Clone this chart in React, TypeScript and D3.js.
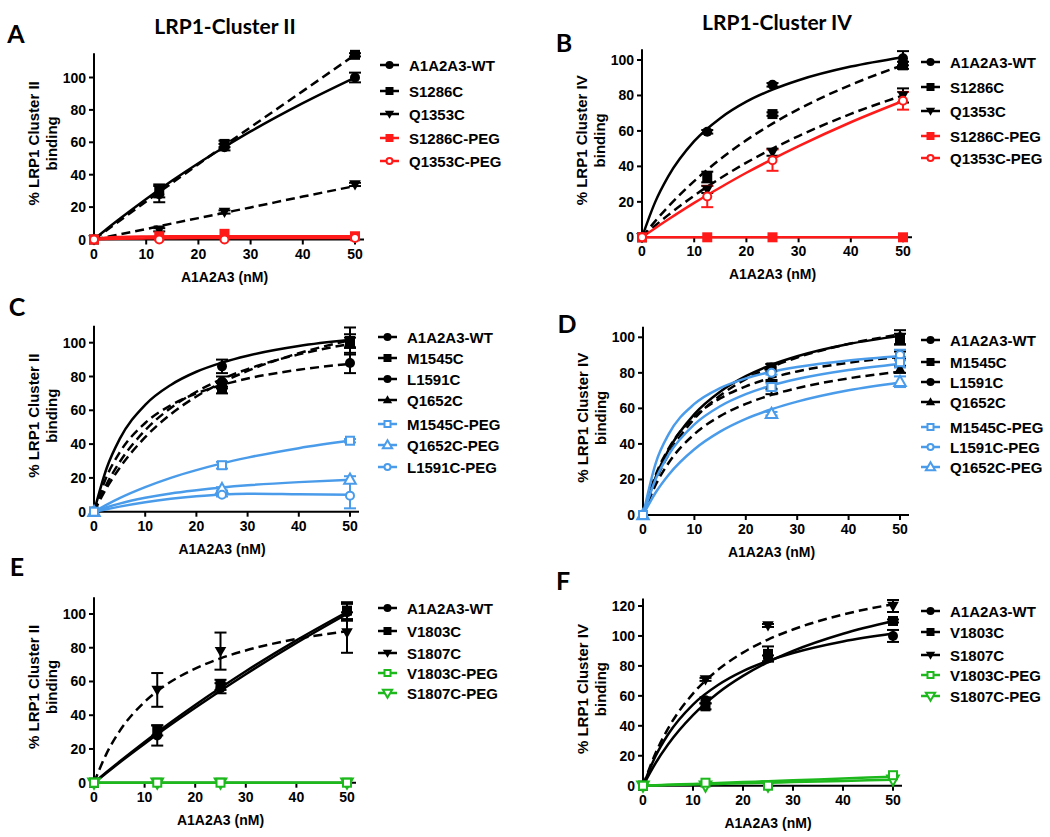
import React from 'react';
import * as d3 from 'd3';

// ---------- shared categories / ticks ----------
const concFull = [0, 12.5, 25, 50];
const concShort = [0, 25, 50];
const fitConc = [0, 2.5, 5, 10, 15, 20, 25, 30, 40, 50];
const xTicks = [0, 10, 20, 30, 40, 50];
const yTicks100 = [0, 20, 40, 60, 80, 100];
const yTicks120 = [0, 20, 40, 60, 80, 100, 120];

// ---------- Panel A (Cluster II) ----------
const A_WT = [0, 28, 57, 100];
const A_WT_err = [0, 5, 2, 3];
const A_WT_fit = [0, 6.6, 12.9, 25, 36.4, 47.1, 57.1, 66.7, 84.2, 100];
const A_S1286C = [0, 30, 59, 114];
const A_S1286C_err = [0, 4, 2, 1];
const A_S1286C_fit = [0, 5.9, 11.8, 23.5, 35, 46.5, 58, 69.3, 91.6, 114];
const A_Q1353C = [0, 6, 17, 34];
const A_Q1353C_err = [0, 1, 1, 1];
const A_Q1353C_fit = [0, 1.6, 3.2, 6.5, 9.9, 13.2, 16.5, 19.8, 26.5, 33];
const A_S1286C_PEG = [0, 2, 3.5, 2];
const A_S1286C_PEG_fit = [0, 1.2, 1.6, 1.9, 2, 2, 2, 2, 2, 2];
const A_Q1353C_PEG = [0, 0, 0, 1];
const A_Q1353C_PEG_fit = [0, 0.3, 0.5, 0.7, 0.8, 0.9, 1, 1, 1, 1];

// ---------- Panel B (Cluster IV) ----------
const B_WT = [0, 59.5, 86, 101];
const B_WT_err = [0, 1, 1, 4];
const B_WT_fit = [0, 19.7, 34.2, 54.2, 67.2, 76.5, 83.3, 88.6, 96.3, 101.6];
const B_S1286C = [0, 34, 69.5, 97];
const B_S1286C_err = [0, 3, 1, 2];
const B_S1286C_fit = [0, 9, 17.2, 31.7, 44.1, 54.8, 64.1, 72.3, 86, 97.1];
const B_Q1353C = [0, 27, 48, 80];
const B_Q1353C_err = [0, 2, 2, 4];
const B_Q1353C_fit = [0, 6.5, 12.5, 23.5, 33.3, 42.1, 50, 57.1, 69.6, 80];
const B_S1286C_PEG = [0, 0, 0, 0];
const B_S1286C_PEG_fit = [0, 0, 0, 0, 0, 0, 0, 0, 0, 0];
const B_Q1353C_PEG = [0, 23, 43.5, 77];
const B_Q1353C_PEG_err = [0, 6, 6, 5];
const B_Q1353C_PEG_fit = [0, 5.1, 10, 19.4, 28.1, 36.4, 44.1, 51.4, 64.9, 76.9];

// ---------- Panel C (Cluster II) ----------
const C_WT = [0, 86, 101];
const C_WT_err = [0, 4, 8];
const C_WT_fit = [0, 26, 42.9, 63.2, 75, 82.8, 88.2, 92.3, 98, 101.7];
const C_M1545C = [0, 73, 101];
const C_M1545C_err = [0, 3, 4];
const C_M1545C_fit = [0, 14.2, 25.9, 44.1, 57.7, 68.2, 76.5, 83.3, 93.8, 101.4];
const C_L1591C = [0, 77, 88];
const C_L1591C_err = [0, 3, 6];
const C_L1591C_fit = [0, 21, 35, 52.5, 63, 70, 75, 78.8, 84, 87.5];
const C_Q1652C = [0, 75, 100];
const C_Q1652C_err = [0, 2, 3];
const C_Q1652C_fit = [0, 16.5, 29.3, 48.2, 61.4, 71, 78.5, 84.4, 93.1, 99.3];
const C_M1545C_PEG = [0, 27.5, 42];
const C_M1545C_PEG_err = [0, 2, 1];
const C_M1545C_PEG_fit = [0, 4.2, 8, 14.5, 20, 24.6, 28.6, 32, 37.6, 42.1];
const C_Q1652C_PEG = [0, 13.5, 19];
const C_Q1652C_PEG_err = [0, 1, 2];
const C_Q1652C_PEG_fit = [0, 2.6, 4.8, 8.2, 10.8, 12.7, 14.3, 15.6, 17.5, 18.9];
const C_L1591C_PEG = [0, 10, 9.5];
const C_L1591C_PEG_err = [0, 1, 7.5];
const C_L1591C_PEG_fit = [0, 1.5, 3, 5.6, 7.6, 9.1, 10.2, 10.6, 10.3, 10];

// ---------- Panel D (Cluster IV) ----------
const D_WT = [0, 83, 100];
const D_WT_err = [0, 2, 4];
const D_WT_fit = [0, 21.6, 36.8, 56.8, 69.4, 78.1, 84.5, 89.3, 96.2, 100.8];
const D_M1545C = [0, 83, 99];
const D_M1545C_err = [0, 2, 3];
const D_M1545C_fit = [0, 19.7, 34.2, 54.2, 67.2, 76.5, 83.3, 88.6, 96.3, 101.6];
const D_L1591C = [0, 72, 90];
const D_L1591C_err = [0, 4, 2];
const D_L1591C_fit = [0, 22.8, 37.5, 55.3, 65.6, 72.4, 77.2, 80.8, 85.7, 89];
const D_Q1652C = [0, 73, 82];
const D_Q1652C_err = [0, 2, 2];
const D_Q1652C_fit = [0, 17.2, 29.4, 45.5, 55.6, 62.5, 67.6, 71.4, 76.9, 80.6];
const D_M1545C_PEG = [0, 72, 86];
const D_M1545C_PEG_err = [0, 2, 3];
const D_M1545C_PEG_fit = [0, 20.4, 34, 51, 61.2, 68, 72.9, 76.5, 81.6, 85];
const D_L1591C_PEG = [0, 80, 90];
const D_L1591C_PEG_err = [0, 1, 3];
const D_L1591C_PEG_fit = [0, 29.4, 45.5, 62.5, 71.4, 76.9, 80.6, 83.3, 87, 89.3];
const D_Q1652C_PEG = [0, 57, 75];
const D_Q1652C_PEG_err = [0, 1, 3];
const D_Q1652C_PEG_fit = [0, 12.8, 22.7, 37, 46.9, 54.1, 59.5, 63.8, 70.2, 74.6];

// ---------- Panel E (Cluster II) ----------
const E_WT = [0, 28, 56, 101];
const E_WT_err = [0, 6, 3, 5];
const E_WT_fit = [0, 5.9, 11.8, 23.1, 34, 44.4, 54.5, 64.3, 82.8, 100];
const E_V1803C = [0, 31, 58, 102];
const E_V1803C_err = [0, 3, 3, 5];
const E_V1803C_fit = [0, 6.3, 12.4, 24.2, 35.4, 46.1, 56.3, 66.1, 84.4, 101.2];
const E_S1807C = [0, 55, 78, 89];
const E_S1807C_err = [0, 10, 11, 12];
const E_S1807C_fit = [0, 17.4, 30.3, 47.9, 59.5, 67.6, 73.7, 78.4, 85.2, 89.8];
const E_V1803C_PEG = [0, 0, 0, 0];
const E_V1803C_PEG_fit = [0, 0, 0, 0, 0, 0, 0, 0, 0, 0];
const E_S1807C_PEG = [0, 0, 0, 0];
const E_S1807C_PEG_fit = [0, 0, 0, 0, 0, 0, 0, 0, 0, 0];

// ---------- Panel F (Cluster IV) ----------
const F_WT = [0, 57, 85, 100];
const F_WT_err = [0, 2, 2, 4];
const F_WT_fit = [0, 19.7, 34.2, 54.2, 67.2, 76.5, 83.3, 88.6, 96.3, 101.6];
const F_V1803C = [0, 53, 88, 110];
const F_V1803C_err = [0, 2, 5, 1];
const F_V1803C_fit = [0, 15, 27.5, 47.1, 61.9, 73.3, 82.5, 90, 101.5, 110];
const F_S1807C = [0, 71, 107, 120];
const F_S1807C_err = [0, 1, 1, 4];
const F_S1807C_fit = [0, 21.6, 38.1, 61.5, 77.4, 88.9, 97.6, 104.3, 114.3, 121.2];
const F_V1803C_PEG = [0, 2, 0, 7];
const F_V1803C_PEG_fit = [0, 0.3, 0.6, 1.2, 1.8, 2.4, 3, 3.6, 4.8, 6];
const F_S1807C_PEG = [0, 0, 0, 4];
const F_S1807C_PEG_fit = [0, 0.2, 0.4, 0.8, 1.2, 1.6, 2, 2.4, 3.2, 4];

// ---------- styling ----------
const BLACK = '#000000';
const RED = '#ff1a1a';
const BLUE = '#4a9cea';
const GREEN = '#1cb81c';
const ARIAL = 'Arial, Liberation Sans, sans-serif';
const CAL = 'Lato, Open Sans, sans-serif';

type MarkerType = 'circle' | 'square' | 'tri' | 'tridown';
interface Series {
  name: string;
  x: number[];
  y: number[];
  err?: number[];
  fit: number[];
  color: string;
  dashed?: boolean;
  marker: MarkerType;
  open?: boolean;
}

const mk = (name: string, x: number[], y: number[], err: number[] | undefined, fit: number[], color: string, marker: MarkerType, dashed = false, open = false): Series =>
  ({ name, x, y, err, fit, color, marker, dashed, open });

interface Panel {
  letter: string;
  letterX: number; letterY: number;
  title?: string; titleX?: number; titleY?: number;
  x0: number; x50: number;
  y0: number; yRef: number; yRefVal: number; yTop: number;
  yTicks: number[];
  ylabel: string;
  legendX: number; legendYs: number[];
  series: Series[];
}

const panels: Panel[] = [
  {
    letter: 'A', letterX: 16, letterY: 33, title: 'LRP1-Cluster II', titleX: 225, titleY: 25,
    x0: 94, x50: 355, y0: 239.5, yRef: 77.5, yRefVal: 100, yTop: 115, yTicks: yTicks100,
    ylabel: '% LRP1 Cluster II', legendX: 380, legendYs: [65, 91, 114, 138, 161],
    series: [
      mk('A1A2A3-WT', concFull, A_WT, A_WT_err, A_WT_fit, BLACK, 'circle'),
      mk('S1286C', concFull, A_S1286C, A_S1286C_err, A_S1286C_fit, BLACK, 'square', true),
      mk('Q1353C', concFull, A_Q1353C, A_Q1353C_err, A_Q1353C_fit, BLACK, 'tridown', true),
      mk('S1286C-PEG', concFull, A_S1286C_PEG, undefined, A_S1286C_PEG_fit, RED, 'square'),
      mk('Q1353C-PEG', concFull, A_Q1353C_PEG, undefined, A_Q1353C_PEG_fit, RED, 'circle', false, true),
    ],
  },
  {
    letter: 'B', letterX: 564, letterY: 42, title: 'LRP1-Cluster IV', titleX: 777, titleY: 21,
    x0: 642, x50: 903, y0: 237.3, yRef: 60, yRefVal: 100, yTop: 106, yTicks: yTicks100,
    ylabel: '% LRP1 Cluster IV', legendX: 921, legendYs: [62, 87, 111, 136, 158],
    series: [
      mk('A1A2A3-WT', concFull, B_WT, B_WT_err, B_WT_fit, BLACK, 'circle'),
      mk('S1286C', concFull, B_S1286C, B_S1286C_err, B_S1286C_fit, BLACK, 'square', true),
      mk('Q1353C', concFull, B_Q1353C, B_Q1353C_err, B_Q1353C_fit, BLACK, 'tridown', true),
      mk('S1286C-PEG', concFull, B_S1286C_PEG, undefined, B_S1286C_PEG_fit, RED, 'square'),
      mk('Q1353C-PEG', concFull, B_Q1353C_PEG, B_Q1353C_PEG_err, B_Q1353C_PEG_fit, RED, 'circle', false, true),
    ],
  },
  {
    letter: 'C', letterX: 17, letterY: 306,
    x0: 94, x50: 350, y0: 511.7, yRef: 342.7, yRefVal: 100, yTop: 110, yTicks: yTicks100,
    ylabel: '% LRP1 Cluster II', legendX: 378, legendYs: [337, 358, 379, 400, 424, 445, 467],
    series: [
      mk('A1A2A3-WT', concShort, C_WT, C_WT_err, C_WT_fit, BLACK, 'circle'),
      mk('M1545C', concShort, C_M1545C, C_M1545C_err, C_M1545C_fit, BLACK, 'square', true),
      mk('L1591C', concShort, C_L1591C, C_L1591C_err, C_L1591C_fit, BLACK, 'circle', true),
      mk('Q1652C', concShort, C_Q1652C, C_Q1652C_err, C_Q1652C_fit, BLACK, 'tri', true),
      mk('M1545C-PEG', concShort, C_M1545C_PEG, C_M1545C_PEG_err, C_M1545C_PEG_fit, BLUE, 'square', false, true),
      mk('Q1652C-PEG', concShort, C_Q1652C_PEG, C_Q1652C_PEG_err, C_Q1652C_PEG_fit, BLUE, 'tri', false, true),
      mk('L1591C-PEG', concShort, C_L1591C_PEG, C_L1591C_PEG_err, C_L1591C_PEG_fit, BLUE, 'circle', false, true),
    ],
  },
  {
    letter: 'D', letterX: 567, letterY: 323,
    x0: 643, x50: 900, y0: 515, yRef: 337.3, yRefVal: 100, yTop: 106, yTicks: yTicks100,
    ylabel: '% LRP1 Cluster IV', legendX: 921, legendYs: [340, 362, 382, 402, 427, 447, 467],
    series: [
      mk('A1A2A3-WT', concShort, D_WT, D_WT_err, D_WT_fit, BLACK, 'circle'),
      mk('M1545C', concShort, D_M1545C, D_M1545C_err, D_M1545C_fit, BLACK, 'square', true),
      mk('L1591C', concShort, D_L1591C, D_L1591C_err, D_L1591C_fit, BLACK, 'circle', true),
      mk('Q1652C', concShort, D_Q1652C, D_Q1652C_err, D_Q1652C_fit, BLACK, 'tri', true),
      mk('M1545C-PEG', concShort, D_M1545C_PEG, D_M1545C_PEG_err, D_M1545C_PEG_fit, BLUE, 'square', false, true),
      mk('L1591C-PEG', concShort, D_L1591C_PEG, D_L1591C_PEG_err, D_L1591C_PEG_fit, BLUE, 'circle', false, true),
      mk('Q1652C-PEG', concShort, D_Q1652C_PEG, D_Q1652C_PEG_err, D_Q1652C_PEG_fit, BLUE, 'tri', false, true),
    ],
  },
  {
    letter: 'E', letterX: 17, letterY: 566,
    x0: 94, x50: 347, y0: 782.7, yRef: 614, yRefVal: 100, yTop: 110, yTicks: yTicks100,
    ylabel: '% LRP1 Cluster II', legendX: 378, legendYs: [608, 631, 653, 673, 693],
    series: [
      mk('A1A2A3-WT', concFull, E_WT, E_WT_err, E_WT_fit, BLACK, 'circle'),
      mk('V1803C', concFull, E_V1803C, E_V1803C_err, E_V1803C_fit, BLACK, 'square'),
      mk('S1807C', concFull, E_S1807C, E_S1807C_err, E_S1807C_fit, BLACK, 'tridown', true),
      mk('V1803C-PEG', concFull, E_V1803C_PEG, undefined, E_V1803C_PEG_fit, GREEN, 'square', false, true),
      mk('S1807C-PEG', concFull, E_S1807C_PEG, undefined, E_S1807C_PEG_fit, GREEN, 'tridown', false, true),
    ],
  },
  {
    letter: 'F', letterX: 563, letterY: 580,
    x0: 643, x50: 893, y0: 785.7, yRef: 606, yRefVal: 120, yTop: 125, yTicks: yTicks120,
    ylabel: '% LRP1 Cluster IV', legendX: 921, legendYs: [611, 632, 655, 675, 696],
    series: [
      mk('A1A2A3-WT', concFull, F_WT, F_WT_err, F_WT_fit, BLACK, 'circle'),
      mk('V1803C', concFull, F_V1803C, F_V1803C_err, F_V1803C_fit, BLACK, 'square'),
      mk('S1807C', concFull, F_S1807C, F_S1807C_err, F_S1807C_fit, BLACK, 'tridown', true),
      mk('V1803C-PEG', concFull, F_V1803C_PEG, undefined, F_V1803C_PEG_fit, GREEN, 'square', false, true),
      mk('S1807C-PEG', concFull, F_S1807C_PEG, undefined, F_S1807C_PEG_fit, GREEN, 'tridown', false, true),
    ],
  },
];

function Marker({ type, open, color, cx, cy, s }: { type: MarkerType; open?: boolean; color: string; cx: number; cy: number; s: number }) {
  const fill = open ? '#ffffff' : color;
  const stroke = color;
  const sw = open ? 2 : 0;
  if (type === 'circle') return <circle cx={cx} cy={cy} r={open ? s / 2 - 1 : s / 2} fill={fill} stroke={stroke} strokeWidth={sw} />;
  if (type === 'square') {
    const h = open ? s / 2 - 1 : s / 2;
    return <rect x={cx - h} y={cy - h} width={2 * h} height={2 * h} fill={fill} stroke={stroke} strokeWidth={sw} />;
  }
  const w = s * 0.58;
  const d = type === 'tri'
    ? `M${cx},${cy - s * 0.6}L${cx + w},${cy + s * 0.42}L${cx - w},${cy + s * 0.42}Z`
    : `M${cx},${cy + s * 0.6}L${cx + w},${cy - s * 0.42}L${cx - w},${cy - s * 0.42}Z`;
  return <path d={d} fill={fill} stroke={stroke} strokeWidth={sw} strokeLinejoin="miter" />;
}

function PanelView({ p }: { p: Panel }) {
  const x = d3.scaleLinear().domain([0, 50]).range([p.x0, p.x50]);
  const y = d3.scaleLinear().domain([0, p.yRefVal]).range([p.y0, p.yRef]);
  const xEnd = p.x50 + 9;
  const line = (s: Series) =>
    d3.line<number>().x((_, i) => x(fitConc[i])).y((v) => y(v)).curve(d3.curveMonotoneX)(s.fit) || '';
  const midY = (y(0) + y(p.yTop)) / 2 - 3;
  // open squares drawn last so they sit on top (as in the reference)
  const markerOrder = p.series
    .map((s, i) => ({ s, i }))
    .sort((a, b) => (a.s.open && a.s.marker === 'square' ? 1 : 0) - (b.s.open && b.s.marker === 'square' ? 1 : 0));
  return (
    <g>
      <text x={p.letterX} y={p.letterY} fontFamily={CAL} fontWeight={700} fontSize={25} textAnchor="middle" dominantBaseline="central">{p.letter}</text>
      {p.title && (
        <text x={p.titleX} y={p.titleY} fontFamily={CAL} fontWeight={700} fontSize={21} textAnchor="middle" dominantBaseline="central">{p.title}</text>
      )}
      <line x1={x(0)} x2={x(0)} y1={y(0)} y2={y(p.yTop)} stroke="#000" strokeWidth={2} />
      <line x1={x(0) - 1} x2={xEnd} y1={y(0)} y2={y(0)} stroke="#000" strokeWidth={2} />
      {p.yTicks.map((t) => (
        <g key={'yt' + t}>
          <line x1={x(0) - 5} x2={x(0)} y1={y(t)} y2={y(t)} stroke="#000" strokeWidth={2} />
          <text x={x(0) - 8} y={y(t)} fontFamily={ARIAL} fontWeight={700} fontSize={14} textAnchor="end" dominantBaseline="central">{t}</text>
        </g>
      ))}
      {xTicks.map((t) => (
        <g key={'xt' + t}>
          <line x1={x(t)} x2={x(t)} y1={y(0)} y2={y(0) + 5} stroke="#000" strokeWidth={2} />
          <text x={x(t)} y={y(0) + 14} fontFamily={ARIAL} fontWeight={700} fontSize={14} textAnchor="middle" dominantBaseline="central">{t}</text>
        </g>
      ))}
      <text x={(x(0) + x(50)) / 2} y={y(0) + 37} fontFamily={ARIAL} fontWeight={700} fontSize={14} textAnchor="middle" dominantBaseline="central">A1A2A3 (nM)</text>
      <text transform={`translate(${x(0) - 61},${midY}) rotate(-90)`} fontFamily={ARIAL} fontWeight={700} fontSize={15} textAnchor="middle" dominantBaseline="central">{p.ylabel}</text>
      <text transform={`translate(${x(0) - 43},${midY}) rotate(-90)`} fontFamily={ARIAL} fontWeight={700} fontSize={15} textAnchor="middle" dominantBaseline="central">binding</text>
      {p.series.map((s, si) => (
        <g key={'s' + si}>
          <path d={line(s)} fill="none" stroke={s.color} strokeWidth={2.5} strokeDasharray={s.dashed ? '9,5' : undefined} />
          {s.err && s.y.map((v, i) => s.err![i] > 0 ? (
            <g key={'e' + i}>
              <line x1={x(s.x[i])} x2={x(s.x[i])} y1={y(v - s.err![i])} y2={y(v + s.err![i])} stroke={s.color} strokeWidth={2} />
              <line x1={x(s.x[i]) - 6} x2={x(s.x[i]) + 6} y1={y(v - s.err![i])} y2={y(v - s.err![i])} stroke={s.color} strokeWidth={2} />
              <line x1={x(s.x[i]) - 6} x2={x(s.x[i]) + 6} y1={y(v + s.err![i])} y2={y(v + s.err![i])} stroke={s.color} strokeWidth={2} />
            </g>
          ) : null)}
        </g>
      ))}
      {markerOrder.map(({ s, i: si }) => (
        <g key={'m' + si}>
          {s.y.map((v, i) => (
            <Marker key={'m' + i} type={s.marker} open={s.open} color={s.color} cx={x(s.x[i])} cy={y(v)} s={10} />
          ))}
        </g>
      ))}
      {p.series.map((s, i) => (
        <g key={'l' + i}>
          <line x1={p.legendX} x2={p.legendX + 19} y1={p.legendYs[i]} y2={p.legendYs[i]} stroke={s.color} strokeWidth={2.5} />
          <Marker type={s.marker} open={s.open} color={s.color} cx={p.legendX + 9.5} cy={p.legendYs[i]} s={8} />
          <text x={p.legendX + 29} y={p.legendYs[i]} fontFamily={ARIAL} fontWeight={700} fontSize={15} dominantBaseline="central">{s.name}</text>
        </g>
      ))}
    </g>
  );
}

export default function App() {
  return (
    <div style={{ position: 'absolute', left: 0, top: 0 }}>
      <svg width={1050} height={837} style={{ display: 'block', background: '#fff' }}>
        <rect width={1050} height={837} fill="#fff" />
        {panels.map((p) => <PanelView key={p.letter} p={p} />)}
      </svg>
    </div>
  );
}
